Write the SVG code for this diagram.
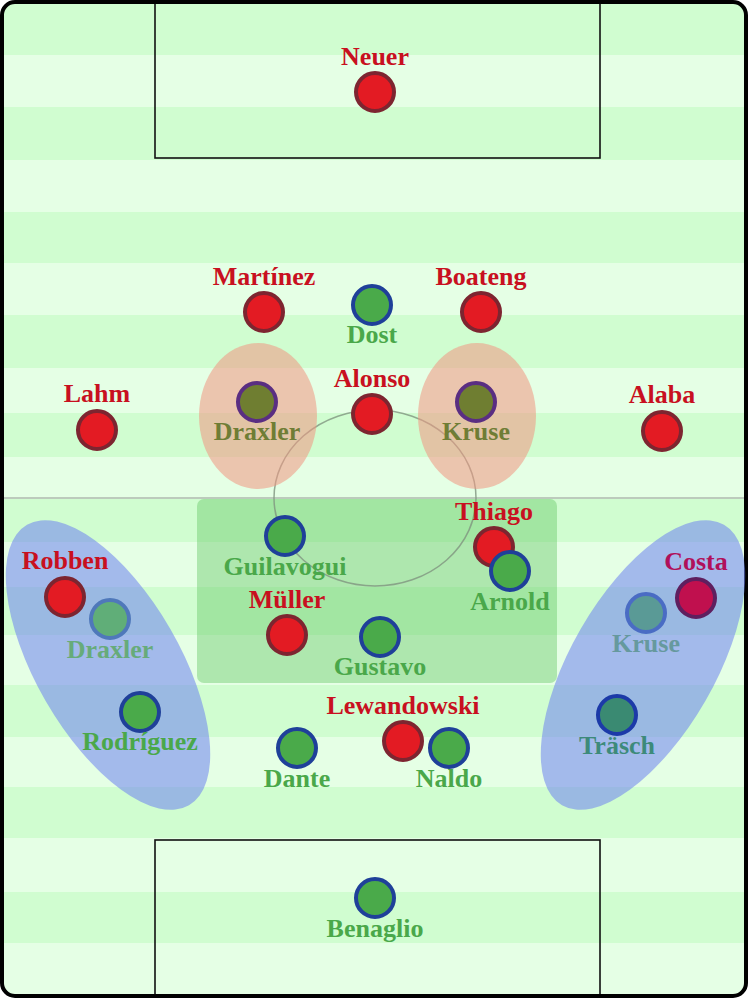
<svg xmlns="http://www.w3.org/2000/svg" width="750" height="1000" viewBox="0 0 750 1000">
<defs>
<clipPath id="pitchClip"><rect x="2" y="2" width="744" height="994" rx="13"/></clipPath>
<style>
.d{fill:#d0fdd0}
.l{fill:#e5ffe5}
.box{fill:none;stroke:#111;stroke-width:1.6}
.t{font-family:"Liberation Serif","DejaVu Serif",serif;font-weight:bold;font-size:26px;text-anchor:middle}
.tr{fill:#c81020}
.tg{fill:#4aa84a}
.pr{fill:#e31b23;stroke:#7d2530;stroke-width:4}
.pg{fill:#4aaa4a;stroke:#1f4099;stroke-width:4}
</style>
</defs>
<rect width="750" height="1000" fill="#ffffff"/>
<g id="pitch" clip-path="url(#pitchClip)">
<rect class="d" x="0" y="0" width="750" height="55"/>
<rect class="l" x="0" y="55" width="750" height="52"/>
<rect class="d" x="0" y="107" width="750" height="53"/>
<rect class="l" x="0" y="160" width="750" height="52"/>
<rect class="d" x="0" y="212" width="750" height="51"/>
<rect class="l" x="0" y="263" width="750" height="52"/>
<rect class="d" x="0" y="315" width="750" height="53"/>
<rect class="l" x="0" y="368" width="750" height="45"/>
<rect class="d" x="0" y="413" width="750" height="44"/>
<rect class="l" x="0" y="457" width="750" height="41"/>
<rect class="d" x="0" y="498" width="750" height="44"/>
<rect class="l" x="0" y="542" width="750" height="45"/>
<rect class="d" x="0" y="587" width="750" height="48"/>
<rect class="l" x="0" y="635" width="750" height="50"/>
<rect class="d" x="0" y="685" width="750" height="52"/>
<rect class="l" x="0" y="737" width="750" height="50"/>
<rect class="d" x="0" y="787" width="750" height="51"/>
<rect class="l" x="0" y="838" width="750" height="54"/>
<rect class="d" x="0" y="892" width="750" height="51"/>
<rect class="l" x="0" y="943" width="750" height="57"/>
<line x1="0" y1="498" x2="750" y2="498" stroke="#bccbbc" stroke-width="2"/>
<rect class="box" x="155" y="0" width="445" height="158"/>
<rect class="box" x="155" y="840" width="445" height="170"/>
</g>
<rect x="2" y="2" width="744" height="994" rx="13" fill="none" stroke="#000" stroke-width="4"/>
<g id="zones">
<rect x="197" y="499" width="360" height="184" rx="7" fill="#5cc45c" fill-opacity="0.4"/>
<ellipse cx="375" cy="498" rx="101" ry="88" fill="none" stroke="#7f957f" stroke-width="1.5" stroke-opacity="0.8"/>
<ellipse cx="258" cy="416" rx="59" ry="73" fill="#f09682" fill-opacity="0.55"/>
<ellipse cx="477" cy="416" rx="59" ry="73" fill="#f09682" fill-opacity="0.55"/>
<ellipse cx="0" cy="0" rx="162" ry="72" transform="translate(108 665) rotate(60)" fill="#6e82f0" fill-opacity="0.55"/>
<ellipse cx="0" cy="0" rx="162" ry="72" transform="translate(643 665) rotate(-60)" fill="#6e82f0" fill-opacity="0.55"/>
</g>
<g id="connectors"/>
<g id="neuer"><text class="t tr" x="375" y="65">Neuer</text><circle class="pr" cx="375" cy="92" r="19"/></g>
<g id="martinez"><text class="t tr" x="264" y="285">Martínez</text><circle class="pr" cx="264" cy="312" r="19"/></g>
<g id="dost"><circle class="pg" cx="372" cy="305" r="19"/><text class="t tg" x="372" y="343">Dost</text></g>
<g id="boateng"><text class="t tr" x="481" y="285">Boateng</text><circle class="pr" cx="481" cy="312" r="19"/></g>
<g id="lahm"><text class="t tr" x="97" y="402">Lahm</text><circle class="pr" cx="97" cy="430" r="19"/></g>
<g id="alonso"><text class="t tr" x="372" y="387">Alonso</text><circle class="pr" cx="372" cy="414" r="19"/></g>
<g id="draxler-1"><circle cx="257" cy="402" r="19" fill="#6f7e31" stroke="#5a2e82" stroke-width="4"/><text class="t" x="257" y="440" fill="#6f7d35">Draxler</text></g>
<g id="kruse-1"><circle cx="476" cy="402" r="19" fill="#6f7e31" stroke="#5a2e82" stroke-width="4"/><text class="t" x="476" y="440" fill="#6f7d35">Kruse</text></g>
<g id="alaba"><text class="t tr" x="662" y="403">Alaba</text><circle class="pr" cx="662" cy="431" r="19"/></g>
<g id="guilavogui"><circle class="pg" cx="285" cy="536" r="19"/><text class="t tg" x="285" y="575">Guilavogui</text></g>
<g id="thiago"><text class="t tr" x="494" y="520">Thiago</text><circle class="pr" cx="494" cy="547" r="19"/></g>
<g id="arnold"><circle class="pg" cx="510" cy="571" r="19"/><text class="t tg" x="510" y="610">Arnold</text></g>
<g id="mueller"><text class="t tr" x="287" y="608">Müller</text><circle class="pr" cx="287" cy="635" r="19"/></g>
<g id="gustavo"><circle class="pg" cx="380" cy="637" r="19"/><text class="t tg" x="380" y="675">Gustavo</text></g>
<g id="robben"><text class="t tr" x="65" y="569">Robben</text><circle class="pr" cx="65" cy="597" r="19"/></g>
<g id="draxler-2"><circle cx="110" cy="619" r="19" fill="#60ae78" stroke="#4f78ba" stroke-width="4"/><text class="t" x="110" y="658" fill="#67ab7a">Draxler</text></g>
<g id="rodriguez"><circle class="pg" cx="140" cy="712" r="19"/><text class="t tg" x="140" y="750">Rodríguez</text></g>
<g id="costa"><text class="t" x="696" y="570" fill="#b0105a">Costa</text><circle cx="696" cy="598" r="19" fill="#c0104e" stroke="#5f1f5f" stroke-width="4"/></g>
<g id="kruse-2"><circle cx="646" cy="613" r="19" fill="#5a9a96" stroke="#4a6cc4" stroke-width="4"/><text class="t" x="646" y="652" fill="#66999e">Kruse</text></g>
<g id="traesch"><circle cx="617" cy="715" r="19" fill="#3a8a72" stroke="#1c3aa8" stroke-width="4"/><text class="t" x="617" y="754" fill="#3d8a7a">Träsch</text></g>
<g id="lewandowski"><text class="t tr" x="403" y="714">Lewandowski</text><circle class="pr" cx="403" cy="741" r="19"/></g>
<g id="dante"><circle class="pg" cx="297" cy="748" r="19"/><text class="t tg" x="297" y="787">Dante</text></g>
<g id="naldo"><circle class="pg" cx="449" cy="748" r="19"/><text class="t tg" x="449" y="787">Naldo</text></g>
<g id="benaglio"><circle class="pg" cx="375" cy="898" r="19"/><text class="t tg" x="375" y="937">Benaglio</text></g>
</svg>
